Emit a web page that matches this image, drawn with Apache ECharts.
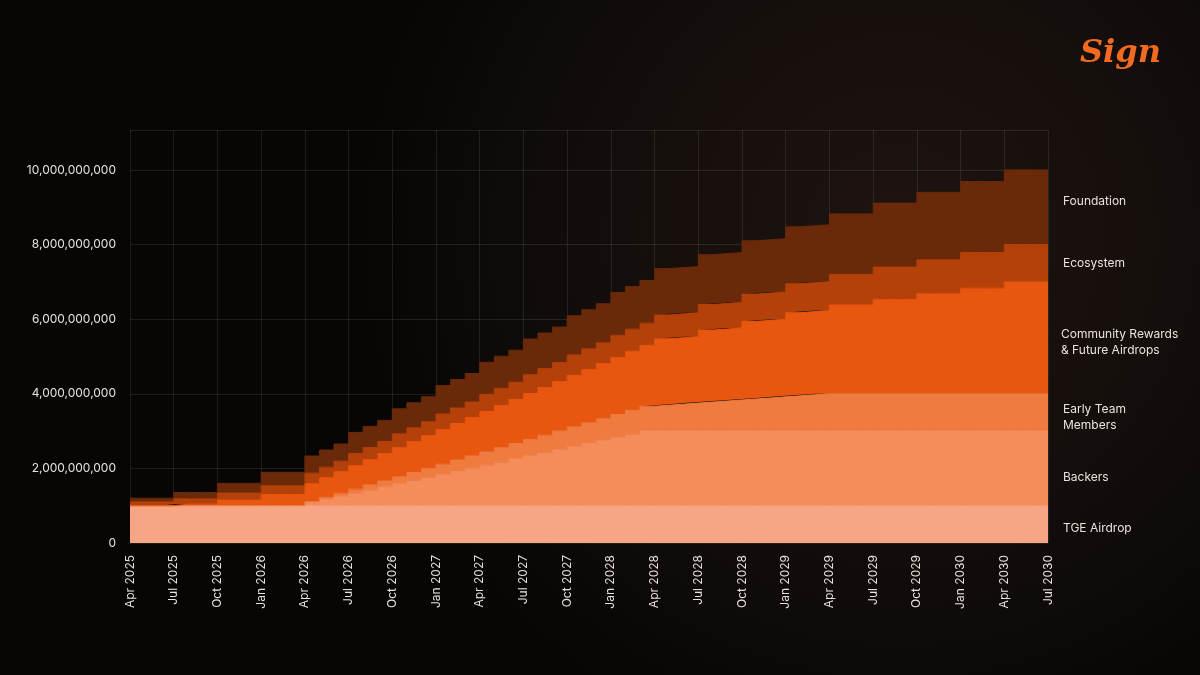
<!DOCTYPE html>
<html>
<head>
<meta charset="utf-8">
<script src="https://cdn.jsdelivr.net/npm/echarts@6/dist/echarts.min.js"></script>
<style>
  html, body { margin: 0; padding: 0; background: #0b0908; }
  #chart { width: 1200px; height: 675px; }
</style>
</head>
<body>
<div id="chart"></div>
<script>
// months Apr 2025 .. Jul 2030, values in millions of tokens (cumulative unlocked)
const monthNames = ['Jan', 'Feb', 'Mar', 'Apr', 'May', 'Jun', 'Jul', 'Aug', 'Sep', 'Oct', 'Nov', 'Dec']
const months = []
for (let i = 0; i < 64; i++) {
  const m = (3 + i) % 12
  const y = 2025 + Math.floor((3 + i) / 12)
  months.push(monthNames[m] + ' ' + y)
}

const tgeAirdrop = Array(64).fill(1000)

const backers = [
  0, 0, 0, 0, 0, 0, 0, 0, 0, 0, 0, 0,
  83, 167, 250, 333, 417, 500, 583, 667, 750, 833, 917, 1000,
  1083, 1167, 1250, 1333, 1417, 1500, 1583, 1667, 1750, 1833, 1917, 2000,
  2000, 2000, 2000, 2000, 2000, 2000, 2000, 2000, 2000, 2000, 2000, 2000,
  2000, 2000, 2000, 2000, 2000, 2000, 2000, 2000, 2000, 2000, 2000, 2000,
  2000, 2000, 2000, 2000
]

const earlyTeam = [
  0, 0, 0, 0, 0, 0, 0, 0, 0, 0, 0, 0,
  28, 56, 83, 111, 139, 167, 194, 222, 250, 278, 306, 333,
  361, 389, 417, 444, 472, 500, 528, 556, 583, 611, 639, 667,
  694, 722, 750, 778, 806, 833, 861, 889, 917, 944, 972, 1000,
  1000, 1000, 1000, 1000, 1000, 1000, 1000, 1000, 1000, 1000, 1000, 1000,
  1000, 1000, 1000, 1000
]

const community = [
  0, 0, 0, 40, 40, 40, 150, 150, 150, 300, 300, 300,
  480, 530, 580, 630, 680, 730, 780, 830, 880, 930, 980, 1030,
  1080, 1130, 1180, 1230, 1280, 1330, 1380, 1430, 1480, 1530, 1580, 1630,
  1780, 1780, 1780, 1930, 1930, 1930, 2080, 2080, 2080, 2230, 2230, 2230,
  2380, 2380, 2380, 2530, 2530, 2530, 2680, 2680, 2680, 2830, 2830, 2830,
  3000, 3000, 3000, 3000
]

const ecosystem = [
  100, 100, 100, 145, 145, 145, 190, 190, 190, 235, 235, 235,
  280, 280, 280, 325, 325, 325, 370, 370, 370, 415, 415, 415,
  460, 460, 460, 505, 505, 505, 550, 550, 550, 595, 595, 595,
  640, 640, 640, 685, 685, 685, 730, 730, 730, 775, 775, 775,
  820, 820, 820, 865, 865, 865, 910, 910, 910, 955, 955, 955,
  1000, 1000, 1000, 1000
]

const foundation = [
  100, 100, 100, 170, 170, 170, 260, 260, 260, 360, 360, 360,
  460, 460, 460, 565, 565, 565, 670, 670, 670, 765, 765, 765,
  860, 860, 860, 955, 955, 955, 1050, 1050, 1050, 1145, 1145, 1145,
  1240, 1240, 1240, 1335, 1335, 1335, 1430, 1430, 1430, 1525, 1525, 1525,
  1620, 1620, 1620, 1715, 1715, 1715, 1810, 1810, 1810, 1905, 1905, 1905,
  2000, 2000, 2000, 2000
]

const seriesNames = ['TGE Airdrop', 'Backers', 'Early Team Members', 'Community Rewards & Future Airdrops', 'Ecosystem', 'Foundation']
const seriesData = [tgeAirdrop, backers, earlyTeam, community, ecosystem, foundation]
const colors = ['#f6a684', '#f58c5a', '#ef7b3f', '#e8560f', '#b5410a', '#6a2908']

const myChart = echarts.init(document.getElementById('chart'))
const option = {
  backgroundColor: {
    type: 'radial', x: 0.75, y: 0.35, r: 0.8,
    colorStops: [
      { offset: 0, color: '#1e1411' },
      { offset: 0.6, color: '#120d0b' },
      { offset: 1, color: '#070605' }
    ]
  },
  animation: false,
  grid: { left: 130, right: 152, top: 130, bottom: 132 },
  xAxis: {
    type: 'category',
    boundaryGap: false,
    data: months,
    axisLine: { show: false },
    axisTick: { show: false },
    axisLabel: {
      interval: 2,
      rotate: 90,
      color: '#e8e2df',
      fontFamily: 'Inter',
      fontSize: 12,
      margin: 12
    },
    splitLine: { show: true, interval: 2, lineStyle: { color: 'rgba(255,255,255,0.09)' } }
  },
  yAxis: {
    type: 'value',
    min: 0,
    max: 11070,
    interval: 2000,
    axisLine: { show: false },
    axisTick: { show: false },
    axisLabel: {
      color: '#e8e2df',
      fontFamily: 'Inter',
      fontSize: 12,
      margin: 14,
      showMaxLabel: false,
      formatter: v => v > 10000 ? '' : (v * 1e6).toLocaleString('en-US')
    },
    splitLine: { lineStyle: { color: 'rgba(255,255,255,0.09)' } }
  },
  series: seriesNames.map((name, i) => ({
    name: name,
    type: 'line',
    stack: 'supply',
    step: 'end',
    symbol: 'none',
    lineStyle: { width: 1, color: colors[i] },
    areaStyle: { color: colors[i], opacity: 1 },
    data: seriesData[i]
  })),
  graphic: [
    { type: 'text', left: 1063, top: 195, style: { text: 'Foundation', fill: '#e8e2df', font: '12px Inter' } },
    { type: 'text', left: 1063, top: 257, style: { text: 'Ecosystem', fill: '#e8e2df', font: '12px Inter' } },
    { type: 'text', left: 1061, top: 326, style: { text: 'Community Rewards\n& Future Airdrops', fill: '#e8e2df', font: '12px Inter', lineHeight: 16 } },
    { type: 'text', left: 1063, top: 401, style: { text: 'Early Team\nMembers', fill: '#e8e2df', font: '12px Inter', lineHeight: 16 } },
    { type: 'text', left: 1063, top: 471, style: { text: 'Backers', fill: '#e8e2df', font: '12px Inter' } },
    { type: 'text', left: 1063, top: 522, style: { text: 'TGE Airdrop', fill: '#e8e2df', font: '12px Inter' } },
    { type: 'text', left: 1080, top: 38, style: { text: 'Sign', fill: '#f26a1f', font: 'italic bold 32px "DejaVu Serif"' } }
  ]
}
myChart.setOption(option)
window.addEventListener('resize', function () {
  myChart.resize()
})
</script>
</body>
</html>
